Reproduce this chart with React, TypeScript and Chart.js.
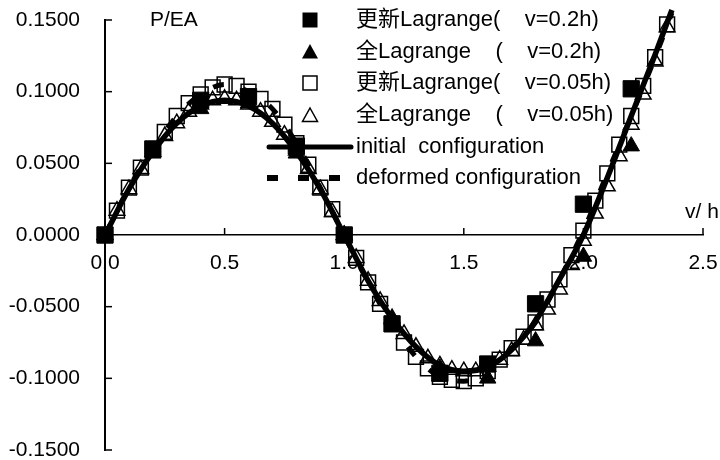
import React, { useEffect, useRef } from "react";
import { Chart, registerables } from "chart.js";

Chart.register(...registerables);

const FONT = "'Liberation Sans', Arial, 'Noto Sans CJK SC', sans-serif";

// Tick labels and titles
const X_TICK_LABELS = ["0.0", "0.5", "1.0", "1.5", "2.0", "2.5"];
const Y_TICK_LABELS = ["-0.1500", "-0.1000", "-0.0500", "0.0000", "0.0500", "0.1000", "0.1500"];
const Y_TITLE = "P/EA";
const X_TITLE = "v/ h";

// Legend labels (series names)
const LEGEND_LABELS = [
  "更新Lagrange(    v=0.2h)",
  "全Lagrange    (    v=0.2h)",
  "更新Lagrange(    v=0.05h)",
  "全Lagrange    (    v=0.05h)",
  "initial  configuration",
  "deformed configuration",
];

// Coarse step (v = 0.2h)
const X_COARSE = [0, 0.2, 0.4, 0.6, 0.8, 1.0, 1.2, 1.4, 1.6, 1.8, 2.0, 2.2];
const UL_COARSE = [0, 0.06, 0.094, 0.0965, 0.062, 0, -0.062, -0.0965, -0.09, -0.048, 0.0215, 0.102];
const TL_COARSE = [0, 0.057, 0.088, 0.092, 0.057, 0, -0.059, -0.093, -0.1, -0.074, -0.015, 0.062];

// Fine step (v = 0.05h)
const X_FINE = [
  0, 0.05, 0.1, 0.15, 0.2, 0.25, 0.3, 0.35, 0.4, 0.45, 0.5, 0.55, 0.6, 0.65, 0.7, 0.75, 0.8, 0.85, 0.9, 0.95, 1.0,
  1.05, 1.1, 1.15, 1.2, 1.25, 1.3, 1.35, 1.4, 1.45, 1.5, 1.55, 1.6, 1.65, 1.7, 1.75, 1.8, 1.85, 1.9, 1.95, 2.0,
  2.05, 2.1, 2.15, 2.2, 2.25, 2.3, 2.35,
];
const UL_FINE = [
  0, 0.017, 0.033, 0.047, 0.06, 0.072, 0.083, 0.092, 0.098, 0.103, 0.105, 0.104, 0.1, 0.095, 0.088, 0.077, 0.064, 0.049, 0.033, 0.018, 0,
  -0.016, -0.033, -0.048, -0.062, -0.075, -0.085, -0.093, -0.099, -0.101, -0.102, -0.1, -0.095, -0.087, -0.079, -0.071, -0.061, -0.045, -0.031, -0.014, 0.003,
  0.024, 0.043, 0.063, 0.083, 0.104, 0.124, 0.147,
];
const TL_FINE = [
  0, 0.017, 0.032, 0.046, 0.058, 0.069, 0.078, 0.086, 0.091, 0.094, 0.095, 0.094, 0.091, 0.086, 0.079, 0.07, 0.059, 0.046, 0.032, 0.016, 0,
  -0.016, -0.032, -0.046, -0.058, -0.069, -0.078, -0.086, -0.091, -0.094, -0.095, -0.095, -0.092, -0.087, -0.081, -0.073, -0.063, -0.052, -0.038, -0.021, -0.004,
  0.015, 0.034, 0.055, 0.077, 0.098, 0.121, 0.145,
];

// Reference curves
const X_LINE = [0, 0.1, 0.2, 0.3, 0.4, 0.5, 0.6, 0.7, 0.8, 0.9, 1.0, 1.1, 1.2, 1.3, 1.4, 1.5, 1.6, 1.7, 1.8, 1.9, 2.0, 2.1, 2.2, 2.3, 2.37];
const INITIAL = [0, 0.032, 0.058, 0.078, 0.09, 0.094, 0.09, 0.078, 0.058, 0.032, 0, -0.032, -0.058, -0.078, -0.091, -0.095, -0.092, -0.08, -0.06, -0.031, 0, 0.04, 0.083, 0.126, 0.157];
const DEFORMED = [0, 0.033, 0.06, 0.083, 0.098, 0.105, 0.1, 0.088, 0.064, 0.033, 0, -0.033, -0.062, -0.085, -0.099, -0.102, -0.095, -0.079, -0.061, -0.031, 0.003, 0.043, 0.083, 0.124, 0.155];

const zip = (xs: number[], ys: number[]) => xs.map((x, i) => ({ x, y: ys[i] }));

const ROW_Y = [20, 52, 83, 115, 147, 178];

const decorPlugin = {
  id: "decor",
  beforeDatasetsDraw(chart: any) {
    const { ctx, scales } = chart;
    const xs = scales.x;
    const ys = scales.y;
    const y0 = ys.getPixelForValue(0);
    ctx.save();
    ctx.strokeStyle = "#000";
    ctx.lineWidth = 1.5;
    xs.ticks.forEach((t: any) => {
      if (t.value === 0) return;
      const px = xs.getPixelForValue(t.value);
      ctx.beginPath();
      ctx.moveTo(px, y0);
      ctx.lineTo(px, y0 - 7);
      ctx.stroke();
    });
    ys.ticks.forEach((t: any) => {
      const py = ys.getPixelForValue(t.value);
      ctx.beginPath();
      ctx.moveTo(xs.left, py);
      ctx.lineTo(xs.left + 7, py);
      ctx.stroke();
    });
    ctx.restore();
  },
  afterDraw(chart: any) {
    const ctx = chart.ctx;
    ctx.save();
    ctx.fillStyle = "#000";
    ctx.strokeStyle = "#000";
    ctx.textBaseline = "middle";
    ctx.textAlign = "left";
    ctx.font = `21px ${FONT}`;
    ctx.fillText(Y_TITLE, 150, 20);
    ctx.fillText(X_TITLE, 685, 212);

    const mx = 310;
    const labels = chart.data.datasets.map((d: any) => d.label);
    let y = ROW_Y[0];
    ctx.fillRect(mx - 7.5, y - 7.5, 15, 15);
    y = ROW_Y[1];
    ctx.beginPath();
    ctx.moveTo(mx, y - 8);
    ctx.lineTo(mx + 8, y + 6.5);
    ctx.lineTo(mx - 8, y + 6.5);
    ctx.closePath();
    ctx.fill();
    y = ROW_Y[2];
    ctx.lineWidth = 1.5;
    ctx.strokeRect(mx - 7, y - 7, 14, 14);
    y = ROW_Y[3];
    ctx.beginPath();
    ctx.moveTo(mx, y - 7);
    ctx.lineTo(mx + 7.5, y + 6.5);
    ctx.lineTo(mx - 7.5, y + 6.5);
    ctx.closePath();
    ctx.stroke();
    y = ROW_Y[4];
    ctx.lineWidth = 5;
    ctx.lineCap = "round";
    ctx.beginPath();
    ctx.moveTo(269, y);
    ctx.lineTo(351, y);
    ctx.stroke();
    y = ROW_Y[5];
    [267, 298, 329].forEach((x0) => ctx.fillRect(x0, y - 3, 11, 6));

    ctx.font = `22px ${FONT}`;
    labels.forEach((lab: string, i: number) => {
      ctx.fillText(lab, 356, ROW_Y[i]);
    });
    ctx.restore();
  },
};

export default function App() {
  const ref = useRef<HTMLCanvasElement | null>(null);

  useEffect(() => {
    document.body.style.margin = "0";
    Chart.defaults.font.family = FONT;
    const canvas = ref.current;
    if (!canvas) return;
    const chart = new Chart(canvas, {
      type: "scatter",
      data: {
        datasets: [
          {
            label: LEGEND_LABELS[0],
            data: zip(X_COARSE, UL_COARSE),
            pointStyle: "rect",
            pointRadius: 11.5,
            backgroundColor: "#000",
            borderColor: "#000",
            borderWidth: 1,
            order: 2,
            clip: false,
          },
          {
            label: LEGEND_LABELS[1],
            data: zip(X_COARSE, TL_COARSE),
            pointStyle: "triangle",
            pointRadius: 9.5,
            backgroundColor: "#000",
            borderColor: "#000",
            borderWidth: 1,
            order: 3,
            clip: false,
          },
          {
            label: LEGEND_LABELS[2],
            data: zip(X_FINE, UL_FINE),
            pointStyle: "rect",
            pointRadius: 10.5,
            backgroundColor: "rgba(0,0,0,0)",
            borderColor: "#000",
            borderWidth: 1.5,
            order: 4,
            clip: false,
          },
          {
            label: LEGEND_LABELS[3],
            data: zip(X_FINE, TL_FINE),
            pointStyle: "triangle",
            pointRadius: 9,
            backgroundColor: "rgba(0,0,0,0)",
            borderColor: "#000",
            borderWidth: 1.5,
            order: 5,
            clip: false,
          },
          {
            label: LEGEND_LABELS[4],
            data: zip(X_LINE, INITIAL),
            showLine: true,
            borderColor: "#000",
            borderWidth: 5.5,
            pointRadius: 0,
            cubicInterpolationMode: "monotone",
            order: 0,
            clip: false,
          },
          {
            label: LEGEND_LABELS[5],
            data: zip(X_LINE, DEFORMED),
            showLine: true,
            borderColor: "#000",
            borderWidth: 5,
            borderDash: [11, 20],
            pointRadius: 0,
            cubicInterpolationMode: "monotone",
            order: 1,
            clip: false,
          },
        ] as any,
      },
      options: {
        responsive: false,
        devicePixelRatio: 1,
        animation: false,
        events: [],
        layout: { autoPadding: false, padding: { top: 20, right: 17, bottom: 10, left: 0 } },
        plugins: { legend: { display: false }, tooltip: { enabled: false } },
        scales: {
          x: {
            type: "linear",
            min: 0,
            max: 2.5,
            position: { y: 0 } as any,
            afterFit: (s: any) => {
              s.height = 0;
              s.paddingLeft = 0;
              s.paddingRight = 0;
              s.paddingTop = 0;
              s.paddingBottom = 0;
            },
            grid: { display: false, drawTicks: false },
            border: { display: true, color: "#000", width: 1.5 },
            ticks: {
              stepSize: 0.5,
              autoSkip: false,
              maxRotation: 0,
              padding: 16,
              color: "#000",
              font: { size: 21, family: FONT },
              callback: (_v: any, i: number) => X_TICK_LABELS[i],
            },
          },
          y: {
            type: "linear",
            min: -0.15,
            max: 0.15,
            position: "left",
            afterFit: (s: any) => {
              s.width = 105;
              s.paddingTop = 0;
              s.paddingBottom = 0;
              s.paddingLeft = 0;
              s.paddingRight = 0;
            },
            grid: { display: false, drawTicks: false },
            border: { display: true, color: "#000", width: 2 },
            ticks: {
              stepSize: 0.05,
              autoSkip: false,
              padding: 25,
              color: "#000",
              font: { size: 21, family: FONT },
              callback: (_v: any, i: number) => Y_TICK_LABELS[i],
            },
          },
        },
      },
      plugins: [decorPlugin],
    });
    return () => chart.destroy();
  }, []);

  return (
    <div style={{ width: 720, height: 460, background: "#fff" }}>
      <canvas ref={ref} width={720} height={460} style={{ display: "block" }} />
    </div>
  );
}
